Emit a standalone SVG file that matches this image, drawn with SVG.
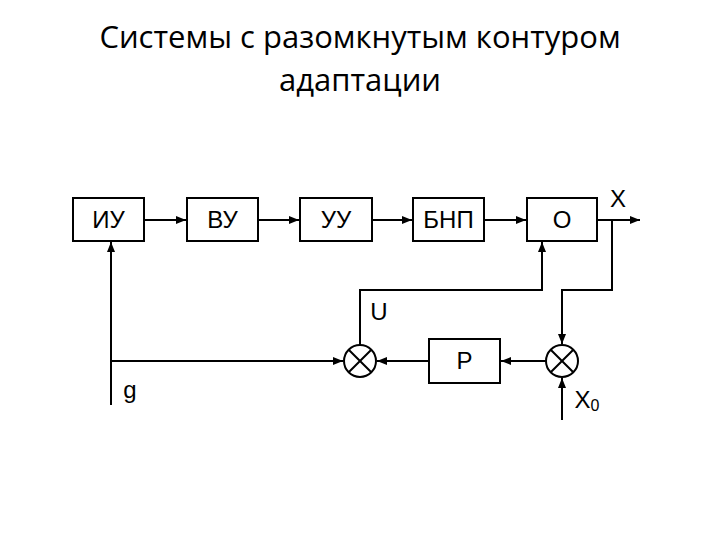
<svg xmlns="http://www.w3.org/2000/svg" width="720" height="540" viewBox="0 0 720 540">
<defs>
<marker id="ah" viewBox="0 0 10 10" refX="10" refY="5" markerWidth="5" markerHeight="5" orient="auto" markerUnits="strokeWidth">
<path d="M0,1 L10,5 L0,9 Z" fill="#000"/>
</marker>
</defs>
<style>
.box{fill:#fff;stroke:#000;stroke-width:2}
.ln{fill:none;stroke:#000;stroke-width:2}
.lbl{font-family:"Liberation Sans",Arial,sans-serif;font-size:24px;fill:#000;text-anchor:middle}
.ttl{font-family:"Open Sans","Liberation Sans",sans-serif;font-size:31px;fill:#000;text-anchor:middle}
</style>
<rect width="720" height="540" fill="#fff"/>
<g id="title">
<text class="ttl" x="360" y="48">Системы с разомкнутым контуром</text>
<text class="ttl" x="360" y="91">адаптации</text>
</g>
<g id="connectors">
<line class="ln" x1="144" y1="220" x2="186" y2="220" marker-end="url(#ah)"/>
<line class="ln" x1="258" y1="220" x2="299" y2="220" marker-end="url(#ah)"/>
<line class="ln" x1="372" y1="220" x2="412" y2="220" marker-end="url(#ah)"/>
<line class="ln" x1="484" y1="220" x2="526" y2="220" marker-end="url(#ah)"/>
<line class="ln" x1="597" y1="220" x2="640" y2="220" marker-end="url(#ah)"/>
<polyline class="ln" points="612,220 612,290 562,290 562,344" marker-end="url(#ah)"/>
<line class="ln" x1="562" y1="420" x2="562" y2="378" marker-end="url(#ah)"/>
<line class="ln" x1="546" y1="361" x2="501" y2="361" marker-end="url(#ah)"/>
<line class="ln" x1="429" y1="361" x2="377" y2="361" marker-end="url(#ah)"/>
<polyline class="ln" points="360,345 360,290 542,290 542,242" marker-end="url(#ah)"/>
<line class="ln" x1="111" y1="405" x2="111" y2="242" marker-end="url(#ah)"/>
<line class="ln" x1="111" y1="361" x2="343" y2="361" marker-end="url(#ah)"/>
</g>
<g id="n-iu"><rect class="box" x="73" y="198" width="71" height="43"/><text class="lbl" x="108.5" y="228">ИУ</text></g>
<g id="n-vu"><rect class="box" x="187" y="198" width="71" height="43"/><text class="lbl" x="222.5" y="228">ВУ</text></g>
<g id="n-uu"><rect class="box" x="300" y="198" width="72" height="43"/><text class="lbl" x="336" y="228">УУ</text></g>
<g id="n-bnp"><rect class="box" x="413" y="198" width="71" height="43"/><text class="lbl" x="448.5" y="228">БНП</text></g>
<g id="n-o"><rect class="box" x="527" y="198" width="70" height="43"/><text class="lbl" x="562" y="228">О</text></g>
<g id="n-p"><rect class="box" x="429" y="339" width="71" height="44"/><text class="lbl" x="464.5" y="369">Р</text></g>
<g id="n-s1"><circle class="ln" cx="360" cy="361" r="16"/><path class="ln" d="M348.7,349.7 L371.3,372.3 M371.3,349.7 L348.7,372.3"/></g>
<g id="n-s2"><circle class="ln" cx="562" cy="361" r="16"/><path class="ln" d="M550.7,349.7 L573.3,372.3 M573.3,349.7 L550.7,372.3"/></g>
<g id="labels">
<text class="lbl" x="618" y="207" font-size="21">X</text>
<text class="lbl" x="379" y="320">U</text>
<text class="lbl" x="130" y="398">g</text>
<text class="lbl" x="587" y="408">X<tspan font-size="16" dy="3">0</tspan></text>
</g>
</svg>
